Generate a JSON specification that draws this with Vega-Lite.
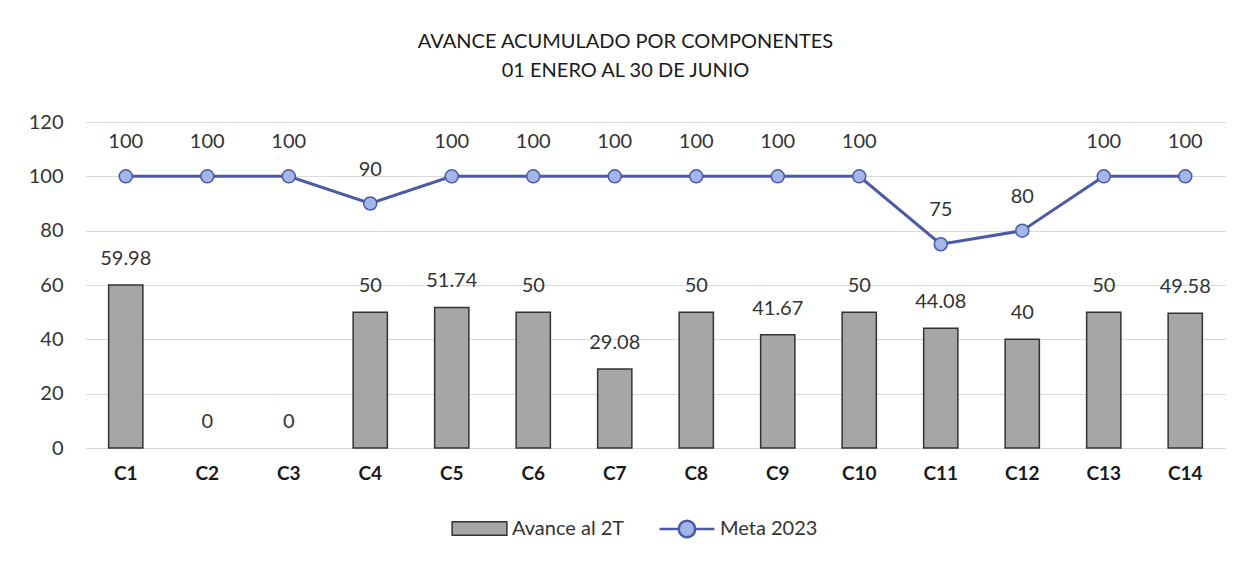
{
  "$schema": "https://vega.github.io/schema/vega-lite/v6.json",
  "autosize": {"type": "none"},
  "width": 1141,
  "height": 326,
  "padding": {"left": 85, "top": 122, "right": 20, "bottom": 117},
  "background": "white",
  "config": {
    "font": "Lato",
    "view": {"stroke": null}
  },
  "title": {
    "text": ["AVANCE ACUMULADO POR COMPONENTES", "01 ENERO AL 30 DE JUNIO"],
    "fontSize": 20,
    "fontWeight": "normal",
    "font": "Lato",
    "color": "#1a1a1a",
    "lineHeight": 29,
    "offset": 31,
    "dx": -30,
    "anchor": "middle"
  },
  "data": {
    "values": [
      {"c": "C1", "avance": 59.98, "meta": 100},
      {"c": "C2", "avance": 0, "meta": 100},
      {"c": "C3", "avance": 0, "meta": 100},
      {"c": "C4", "avance": 50, "meta": 90},
      {"c": "C5", "avance": 51.74, "meta": 100},
      {"c": "C6", "avance": 50, "meta": 100},
      {"c": "C7", "avance": 29.08, "meta": 100},
      {"c": "C8", "avance": 50, "meta": 100},
      {"c": "C9", "avance": 41.67, "meta": 100},
      {"c": "C10", "avance": 50, "meta": 100},
      {"c": "C11", "avance": 44.08, "meta": 75},
      {"c": "C12", "avance": 40, "meta": 80},
      {"c": "C13", "avance": 50, "meta": 100},
      {"c": "C14", "avance": 49.58, "meta": 100}
    ]
  },
  "encoding": {
    "x": {
      "field": "c",
      "type": "nominal",
      "sort": null,
      "scale": {
        "domain": ["C1", "C2", "C3", "C4", "C5", "C6", "C7", "C8", "C9", "C10", "C11", "C12", "C13", "C14"],
        "paddingInner": 0.58,
        "paddingOuter": 0.29
      },
      "axis": {
        "title": null,
        "labelAngle": 0,
        "labelFontSize": 19,
        "labelFontWeight": "bold",
        "labelColor": "#1a1a1a",
        "labelPadding": 16,
        "ticks": false,
        "domain": false,
        "grid": false
      }
    }
  },
  "layer": [
    {
      "transform": [{"filter": "datum.avance > 0"}],
      "mark": {"type": "bar", "stroke": "#333333", "strokeWidth": 1.5},
      "encoding": {
        "y": {
          "field": "avance",
          "type": "quantitative",
          "scale": {"domain": [0, 120], "nice": false},
          "axis": {
            "title": null,
            "values": [0, 20, 40, 60, 80, 100, 120],
            "labelFontSize": 20,
            "labelColor": "#333333",
            "labelPadding": 22,
            "ticks": false,
            "domain": false,
            "gridColor": "#d9d9d9",
            "gridWidth": 1
          }
        },
        "fill": {
          "datum": "Avance al 2T",
          "type": "nominal",
          "scale": {"domain": ["Avance al 2T"], "range": ["#a6a6a6"]},
          "legend": {
            "title": null,
            "orient": "none",
            "legendX": 366,
            "legendY": 378,
            "labelFontSize": 20,
            "labelColor": "#333333",
            "labelFont": "Lato",
            "labelOffset": 4,
            "symbolSize": 3000,
            "symbolType": "M-1,-0.25L1,-0.25L1,0.25L-1,0.25Z",
            "symbolStrokeColor": "#333333",
            "symbolStrokeWidth": 1.5,
            "symbolOpacity": 1
          }
        }
      }
    },
    {
      "mark": {"type": "text", "fontSize": 20, "color": "#333333", "baseline": "alphabetic", "dy": -20},
      "encoding": {
        "y": {"field": "avance", "type": "quantitative"},
        "text": {"field": "avance", "type": "quantitative", "format": "~g"}
      }
    },
    {
      "mark": {"type": "line", "strokeWidth": 3},
      "encoding": {
        "y": {"field": "meta", "type": "quantitative"},
        "stroke": {
          "datum": "Meta 2023",
          "type": "nominal",
          "scale": {"domain": ["Meta 2023"], "range": ["#4a5aa8"]},
          "legend": {
            "title": null,
            "orient": "none",
            "legendX": 573,
            "legendY": 378,
            "labelFontSize": 20,
            "labelColor": "#333333",
            "labelFont": "Lato",
            "labelOffset": 4,
            "symbolSize": 3000,
            "symbolType": "M-1,0L-0.3,0M0.3,0L1,0M0.3,0A0.3,0.3,0,1,1,-0.3,0A0.3,0.3,0,1,1,0.3,0Z",
            "symbolFillColor": "#a3b6ea",
            "symbolStrokeWidth": 2.5,
            "symbolOpacity": 1
          }
        }
      }
    },
    {
      "mark": {"type": "point", "filled": true, "fill": "#a3b6ea", "stroke": "#4a5aa8", "strokeWidth": 1.5, "size": 170, "opacity": 1},
      "encoding": {
        "y": {"field": "meta", "type": "quantitative"}
      }
    },
    {
      "mark": {"type": "text", "fontSize": 20, "color": "#333333", "baseline": "alphabetic", "dy": -28},
      "encoding": {
        "y": {"field": "meta", "type": "quantitative"},
        "text": {"field": "meta", "type": "quantitative", "format": "~g"}
      }
    }
  ]
}
